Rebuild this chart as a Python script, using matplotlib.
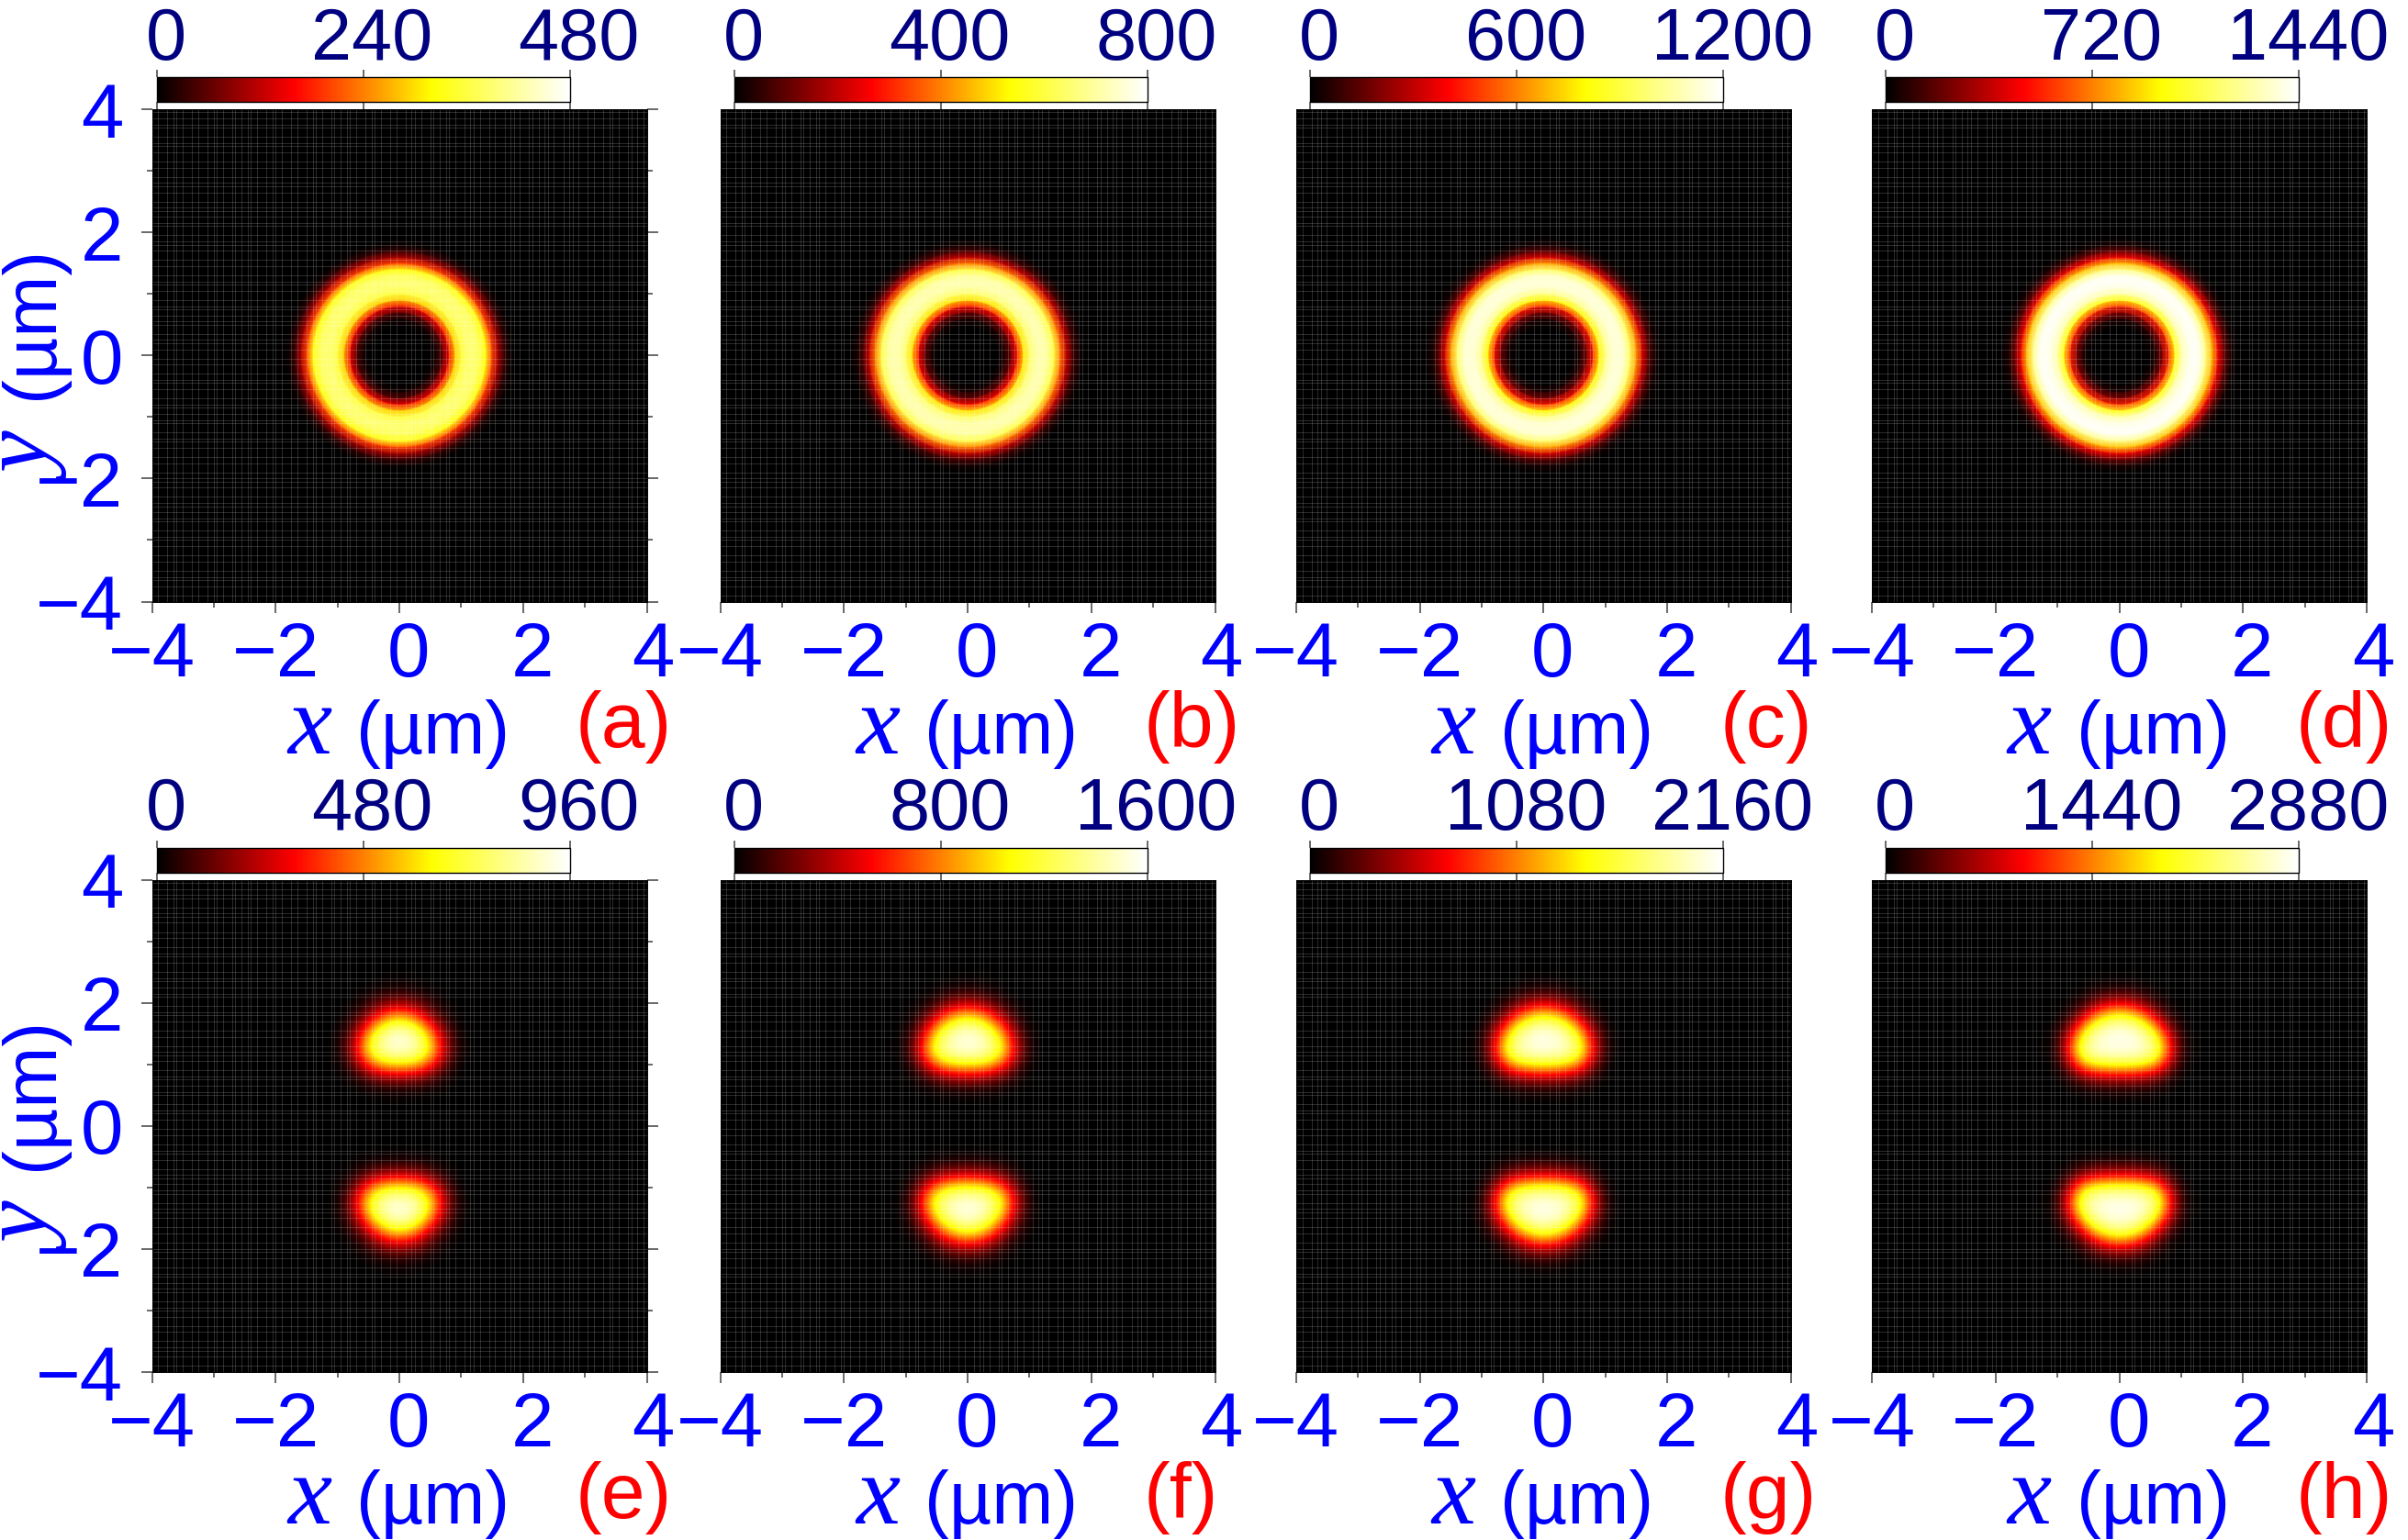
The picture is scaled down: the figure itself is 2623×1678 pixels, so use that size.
# -*- coding: utf-8 -*-
import numpy as np
import matplotlib
matplotlib.use('Agg')
import matplotlib.pyplot as plt
from matplotlib.colors import LinearSegmentedColormap
from matplotlib.transforms import ScaledTranslation

plt.rcParams['font.family'] = ['Liberation Sans', 'DejaVu Sans']

W, H = 2623, 1678

panel_letters = ['(a)', '(b)', '(c)', '(d)', '(e)', '(f)', '(g)', '(h)']
bar_max = [480, 800, 1200, 1440, 960, 1600, 2160, 2880]

# density as a fraction of the colour bar top
ring_r = [0, .4, .5, .6, .7, .8, .9, 1.0, 1.1, 1.2, 1.3, 1.4, 1.5, 1.6, 1.7, 1.8, 1.9, 2.0, 2.1]
ring_a = [0, 0, .005, .03, .12, .32, .60, .76, .81, .82, .79, .69, .42, .21, .07, .015, 0, 0, 0]
ring_b = [0, 0, .007, .04, .14, .34, .63, .81, .88, .90, .87, .76, .49, .25, .09, .025, .002, 0, 0]
ring_c = [0, 0, .009, .045, .16, .36, .66, .85, .93, .95, .93, .80, .54, .28, .11, .03, .004, 0, 0]
ring_d = [0, 0, .01, .05, .18, .38, .68, .89, .96, .99, .98, .84, .58, .31, .13, .035, .005, 0, 0]

blob_x = [0, .2, .4, .6, .8, 1.0, 1.2]
blob_y = [0, .2, .4, .6, .8, 1.0, 1.2, 1.4, 1.6, 1.8, 2.0, 2.2, 2.4]
blob_e = [[0, 0, 0, 0, 0, 0, 0],
          [0, 0, 0, 0, 0, 0, 0],
          [.005, .005, .003, .002, .001, 0, 0],
          [.04, .035, .025, .012, .004, .001, 0],
          [.26, .24, .18, .09, .025, .002, 0],
          [.66, .63, .52, .29, .08, .008, 0],
          [.92, .89, .76, .47, .15, .018, 0],
          [.97, .92, .76, .43, .13, .015, 0],
          [.84, .76, .55, .26, .07, .007, 0],
          [.50, .42, .26, .10, .025, .002, 0],
          [.18, .15, .09, .03, .006, 0, 0],
          [.04, .03, .015, .005, 0, 0, 0],
          [.005, .004, .002, 0, 0, 0, 0]]
blob_f = [[0, 0, 0, 0, 0, 0, 0],
          [0, 0, 0, 0, 0, 0, 0],
          [.005, .005, .003, .002, .001, 0, 0],
          [.045, .04, .03, .017, .005, .001, 0],
          [.28, .26, .21, .12, .04, .005, 0],
          [.69, .67, .58, .39, .13, .015, 0],
          [.94, .91, .83, .60, .25, .032, .001],
          [.97, .94, .82, .55, .20, .028, .001],
          [.88, .81, .64, .36, .11, .013, 0],
          [.57, .50, .34, .15, .04, .004, 0],
          [.22, .18, .11, .04, .008, 0, 0],
          [.045, .035, .02, .006, 0, 0, 0],
          [.005, .004, .002, 0, 0, 0, 0]]
blob_g = [[0, 0, 0, 0, 0, 0, 0],
          [0, 0, 0, 0, 0, 0, 0],
          [.005, .005, .004, .003, .001, 0, 0],
          [.05, .045, .035, .022, .007, .001, 0],
          [.29, .28, .24, .16, .05, .006, 0],
          [.72, .70, .64, .48, .18, .022, .001],
          [.95, .93, .88, .70, .32, .045, .002],
          [.98, .96, .88, .65, .27, .04, .002],
          [.91, .86, .72, .44, .15, .02, .001],
          [.63, .56, .40, .18, .05, .005, 0],
          [.25, .21, .13, .05, .01, .001, 0],
          [.05, .04, .022, .007, .001, 0, 0],
          [.005, .004, .002, 0, 0, 0, 0]]
blob_h = [[0, 0, 0, 0, 0, 0, 0],
          [0, 0, 0, 0, 0, 0, 0],
          [.005, .005, .004, .003, .001, 0, 0],
          [.05, .05, .04, .025, .008, .001, 0],
          [.30, .29, .26, .19, .07, .008, 0],
          [.74, .73, .69, .56, .24, .03, .001],
          [.96, .95, .92, .78, .40, .06, .003],
          [.98, .97, .91, .73, .34, .05, .002],
          [.93, .89, .77, .50, .17, .025, .001],
          [.67, .60, .44, .20, .05, .006, 0],
          [.27, .23, .14, .05, .01, .001, 0],
          [.05, .04, .025, .008, .001, 0, 0],
          [.005, .004, .002, 0, 0, 0, 0]]

ring_data = [ring_a, ring_b, ring_c, ring_d]
blob_data = [blob_e, blob_f, blob_g, blob_h]

# the faint seams in the black, gaps counted in 0.05 um cells
seam_gaps = [2, 3, 2, 1, 2, 3, 2, 3, 2, 1, 2, 3, 1, 2, 2, 1]

fire = LinearSegmentedColormap.from_list(
    'fire', [(0, 'black'), (1/3, 'red'), (2/3, 'yellow'), (1, 'white')], N=256)

panel_left = [165.5, 784.5, 1411.8, 2039]
bar_inset = [5, 15, 15, 15]
panel_top = [119, 958.5]
panel_size = [539, 536.5]
blue = '#0000ff'
navy = '#000080'
tick_col = '#404040'


def px_axes(x0, y0, w, h):
    return fig.add_axes([x0 / W, 1 - (y0 + h) / H, w / W, h / H])


def shift(label, dx):
    label.set_transform(label.get_transform() + ScaledTranslation(dx / 100, 0, fig.dpi_scale_trans))


fig = plt.figure(figsize=(W / 100, H / 100), dpi=100)

seams = np.cumsum(seam_gaps * 11) * 0.05 - 4
seams = seams[seams < 4]

for i in range(8):
    row, col = i // 4, i % 4
    ax = px_axes(panel_left[col], panel_top[row], panel_size[0], panel_size[1])
    ax.set_facecolor('black')
    vmax = bar_max[i]

    if row == 0:
        r = np.array(ring_r)
        theta = np.linspace(0, 2 * np.pi, 241)
        c = np.outer(np.array(ring_data[col]) * vmax, np.ones_like(theta))
        art = ax.pcolormesh(np.outer(r, np.cos(theta)), np.outer(r, np.sin(theta)), c,
                            shading='gouraud', cmap=fire, vmin=0, vmax=vmax)
    else:
        q = np.array(blob_data[col]) * vmax
        right = np.vstack([q[:0:-1], q])
        full = np.hstack([right[:, :0:-1], right])
        art = ax.imshow(full, origin='lower', cmap=fire, vmin=0, vmax=vmax,
                        extent=[-blob_x[-1] - .1, blob_x[-1] + .1, -blob_y[-1] - .1, blob_y[-1] + .1],
                        interpolation='bicubic', interpolation_stage='data', aspect='auto')

    ax.vlines(seams, -4, 4, color='white', alpha=.17, lw=.72)
    ax.hlines(seams, -4, 4, color='white', alpha=.17, lw=.72)

    ax.set_xlim(-4, 4)
    ax.set_ylim(-4, 4)
    ax.set_xticks([-4, -2, 0, 2, 4])
    ax.set_yticks([-4, -2, 0, 2, 4])
    ax.set_xticks([-3, -1, 1, 3], minor=True)
    ax.set_yticks([-3, -1, 1, 3], minor=True)
    ax.tick_params(which='major', length=8.6, width=1.1, color=tick_col,
                   labelsize=60, labelcolor=blue)
    ax.tick_params(which='minor', length=4.3, width=1.1, color=tick_col)
    ax.tick_params(axis='x', which='major', pad=6)
    ax.tick_params(axis='y', which='major', pad=14)
    if col == 0:
        ax.tick_params(axis='y', which='both', right=True)
    else:
        ax.tick_params(axis='y', which='both', left=False, labelleft=False)
    for s in ax.spines.values():
        s.set_linewidth(.7)
    for lab, dx in zip(ax.get_xticklabels(), [0, 0, 10, 10, 7]):
        shift(lab, dx)

    ax.text(.318, -.308, 'x', transform=ax.transAxes, color=blue, fontsize=78,
            family='Liberation Serif', style='italic', ha='center', va='baseline')
    ax.text(.568, -.308, '(µm)', transform=ax.transAxes, color=blue, fontsize=58,
            ha='center', va='baseline')
    ax.text(.856, -.296, panel_letters[i], transform=ax.transAxes, color='red', fontsize=62,
            ha='left', va='baseline')
    if col == 0:
        ax.text(-.196, .29, 'y', transform=ax.transAxes, color=blue, fontsize=74,
                family='Liberation Serif', style='italic', rotation=90, rotation_mode='anchor',
                ha='center', va='baseline')
        ax.text(-.201, .566, '(µm)', transform=ax.transAxes, color=blue, fontsize=58,
                rotation=90, rotation_mode='anchor', ha='center', va='baseline')

    cax = px_axes(panel_left[col] + bar_inset[col], panel_top[row] - 35, 450, 27)
    cb = fig.colorbar(art, cax=cax, orientation='horizontal', ticks=[0, vmax / 2, vmax])
    cax.tick_params(axis='x', length=5.8, width=1.1, color=tick_col, top=True, bottom=True,
                    labeltop=True, labelbottom=False, labelsize=57, labelcolor=navy, pad=-4)
    cb.ax.set_xticklabels([str(v) for v in (0, vmax // 2, vmax)])
    cb.outline.set_linewidth(1)
    for lab in cax.get_xticklabels():
        shift(lab, 10)

fig.savefig('out.png', dpi=100)
